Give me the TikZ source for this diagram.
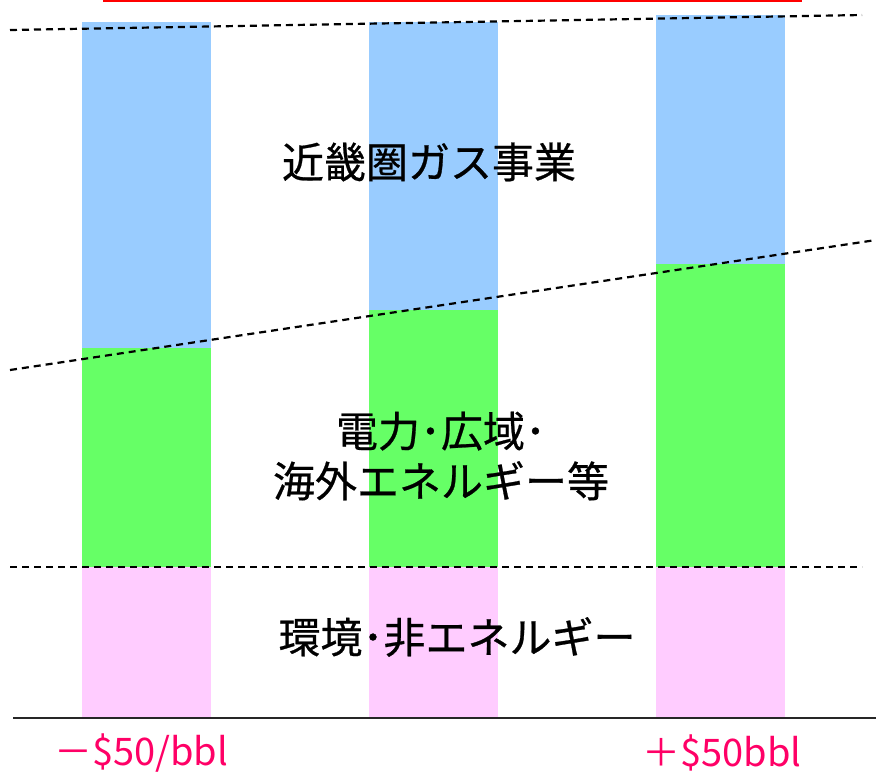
\documentclass[tikz,border=0pt]{standalone}
\usepackage{fontspec}
\setmainfont{Noto Sans CJK JP}
\newfontfamily\jpmed{Noto Sans CJK JP}[FakeBold=0.6]
\definecolor{barblue}{HTML}{99CCFF}
\definecolor{bargreen}{HTML}{66FF66}
\definecolor{barpink}{HTML}{FFCCFF}
\definecolor{labred}{HTML}{FF0066}
\begin{document}
\begin{tikzpicture}[x=1pt,y=-1pt,
  guide/.style={black,line width=2.2pt,dash pattern=on 7pt off 5pt},
  jlabel/.style={font=\jpmed\fontsize{42}{50}\selectfont,align=center,inner sep=0pt},
  xlabel/.style={font=\fontsize{38}{44}\selectfont,text=labred,inner sep=0pt}]
\useasboundingbox (0,0) rectangle (876,772);
% red top line
\draw[red,line width=2.5pt] (103,1) -- (802,1);
% bars
\fill[barblue] (82,22) rectangle (211,348);
\fill[bargreen] (82,348) rectangle (211,567);
\fill[barpink] (82,567) rectangle (211,717);
\fill[barblue] (369,22) rectangle (498,310);
\fill[bargreen] (369,310) rectangle (498,567);
\fill[barpink] (369,567) rectangle (498,717);
\fill[barblue] (656,15) rectangle (785,264);
\fill[bargreen] (656,264) rectangle (785,567);
\fill[barpink] (656,567) rectangle (785,717);
% guides
\coordinate (t1) at (10,30); \coordinate (t2) at (862,15);
\coordinate (m1) at (10,370); \coordinate (m2) at (876,240);
\coordinate (b1) at (10,567); \coordinate (b2) at (862,567);
\draw[guide] (t1) -- (t2);
\draw[guide] (m1) -- (m2);
\draw[guide] (b1) -- (b2);
% axis
\coordinate (a1) at (13,718); \coordinate (a2) at (876,718);
\draw[black!85,line width=2pt] (a1) -- (a2);
% texts
\node[jlabel] (gas) at (429,162) {近畿圏ガス事業};
\node[jlabel] (elec) at (441,456) {電力･広域･\\海外エネルギー等};
\node[jlabel] (env) at (457,637) {環境･非エネルギー};
\node[xlabel] (minus) at (141,753) {－\$50/bbl};
\node[xlabel] (plus) at (722,753) {＋\$50bbl};
\end{tikzpicture}
\end{document}
